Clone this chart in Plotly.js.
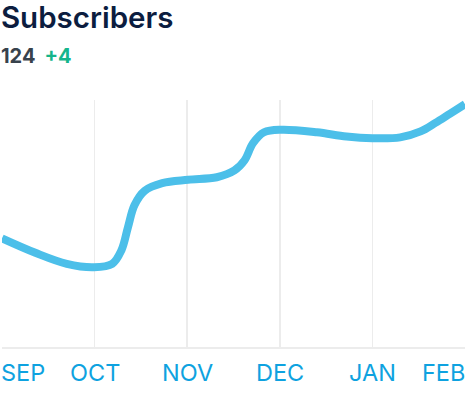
<!DOCTYPE html>
<html>
<head>
<meta charset="utf-8">
<script src="https://cdn.plot.ly/plotly-3.0.1.min.js"></script>
<style>
  html, body { margin: 0; padding: 0; background: #fff; }
  #chart { width: 466px; height: 396px; }
</style>
</head>
<body>
<div id="chart"></div>
<script>
// Month tick labels (one tick per month, at positions 0..5)
const months = ["SEP", "OCT", "NOV", "DEC", "JAN", "FEB"];
const monthPos = [0, 1, 2, 3, 4, 5];

// Subscriber counts (x in months since SEP)
const sampleX = [0, 0.36, 0.70, 0.99, 1.19, 1.29, 1.36, 1.43, 1.54, 1.73, 2.01,
                 2.32, 2.51, 2.62, 2.71, 2.83, 3.02, 3.40, 3.72, 4.0, 4.30, 4.52, 4.68, 4.84, 5.0];
const subscribers = [108.2, 106.5, 105.2, 104.8, 105.2, 106.8, 109.5, 112.1, 113.8, 114.7, 115.1,
                     115.4, 116.2, 117.4, 119.4, 120.7, 121.0, 120.7, 120.2, 120, 120.1, 120.8, 121.8, 122.9, 124];
const chartTitle = "Subscribers";

const lastVal = subscribers[subscribers.length - 1];
const prevMonthVal = subscribers[sampleX.indexOf(4.0)];
const delta = Math.round(lastVal - prevMonthVal);
const deltaText = (delta >= 0 ? "+" : "") + delta;

const FONT = "Inter, 'Noto Sans', 'DejaVu Sans', sans-serif";
const tickColor = "#0ea2e0";

const trace = {
  x: sampleX,
  y: subscribers,
  type: "scatter",
  mode: "lines",
  line: { shape: "spline", smoothing: 1, color: "#4cbfe9", width: 8 },
  hoverinfo: "none"
};

const tickAnnotations = months.map((m, i) => ({
  x: monthPos[i],
  y: 0,
  xref: "x",
  yref: "paper",
  text: m,
  showarrow: false,
  xanchor: i === 0 ? "left" : (i === months.length - 1 ? "right" : "center"),
  xshift: i === 0 ? -3 : (i === months.length - 1 ? 2 : 0),
  yanchor: "middle",
  yshift: -25,
  font: { family: FONT, size: 23.5, color: tickColor }
}));

const layout = {
  width: 466,
  height: 396,
  margin: { l: 2, r: 1, t: 100, b: 49 },
  paper_bgcolor: "#ffffff",
  plot_bgcolor: "#ffffff",
  showlegend: false,
  title: {
    text: chartTitle,
    x: 0.002,
    xref: "container",
    xanchor: "left",
    y: 0.956,
    yref: "container",
    yanchor: "middle",
    pad: { t: 0, b: 0, l: 0, r: 0 },
    font: { family: FONT, size: 29.5, color: "#0c1d3f", weight: 600 }
  },
  xaxis: {
    type: "linear",
    range: [0, 5],
    tickvals: monthPos,
    ticktext: months,
    showgrid: true,
    gridcolor: "#ececec",
    gridwidth: 1.5,
    showline: true,
    linecolor: "#ececec",
    linewidth: 2,
    zeroline: false,
    showticklabels: false,
    ticks: "",
    fixedrange: true
  },
  yaxis: {
    range: [95.4, 124.5],
    showgrid: false,
    zeroline: false,
    showline: false,
    showticklabels: false,
    ticks: "",
    fixedrange: true
  },
  annotations: [
    {
      x: 0,
      y: 1,
      xref: "paper",
      yref: "paper",
      xanchor: "left",
      yanchor: "middle",
      xshift: -3,
      yshift: 44,
      showarrow: false,
      align: "left",
      text: "<b>" + lastVal + "</b> &#8198;<span style=\"color:#15b58b\"><b>" + deltaText + "</b></span>",
      font: { family: FONT, size: 20, color: "#38424c" }
    }
  ].concat(tickAnnotations)
};

Plotly.newPlot("chart", [trace], layout, { displayModeBar: false, staticPlot: true });
</script>
</body>
</html>
